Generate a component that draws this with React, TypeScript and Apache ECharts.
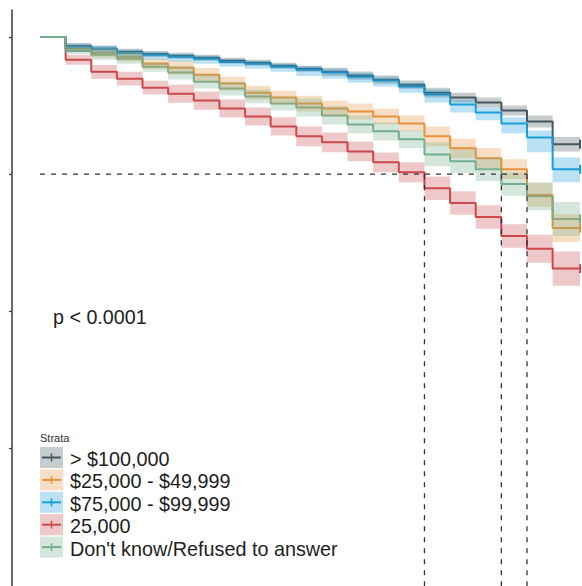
import React, { useEffect, useRef } from "react";
import * as echarts from "echarts";

// ---- data ----
const TIMES = [0, 1, 2, 3, 4, 5, 6, 7, 8, 9, 10, 11, 12, 13, 14, 15, 16, 17, 18, 19, 20];
const T_END = 21.07;

const NAMES = ["> $100,000", "$25,000 - $49,999", "$75,000 - $99,999", "25,000", "Don't know/Refused to answer"];
const COLORS = ["#46555E", "#E8923A", "#1A9FD9", "#C94A4C", "#74AE8E"];

const SURV_GT100K = [1.0, 0.967, 0.957, 0.946, 0.938, 0.931, 0.924, 0.913, 0.906, 0.895, 0.884, 0.873, 0.859, 0.844, 0.826, 0.797, 0.779, 0.761, 0.732, 0.692, 0.609];
const LOWER_GT100K = [1.0, 0.956, 0.946, 0.935, 0.927, 0.92, 0.913, 0.902, 0.895, 0.884, 0.873, 0.858, 0.844, 0.829, 0.811, 0.779, 0.761, 0.743, 0.714, 0.67, 0.583];
const UPPER_GT100K = [1.0, 0.978, 0.968, 0.957, 0.949, 0.942, 0.935, 0.924, 0.917, 0.906, 0.895, 0.888, 0.874, 0.859, 0.841, 0.815, 0.797, 0.779, 0.75, 0.714, 0.635];

const SURV_25_50K = [1.0, 0.957, 0.942, 0.928, 0.902, 0.888, 0.862, 0.83, 0.797, 0.779, 0.757, 0.739, 0.728, 0.71, 0.685, 0.638, 0.594, 0.558, 0.518, 0.424, 0.304];
const LOWER_25_50K = [1.0, 0.946, 0.924, 0.91, 0.884, 0.863, 0.837, 0.805, 0.772, 0.754, 0.728, 0.71, 0.699, 0.681, 0.656, 0.602, 0.558, 0.522, 0.482, 0.381, 0.253];
const UPPER_25_50K = [1.0, 0.968, 0.96, 0.946, 0.92, 0.913, 0.887, 0.855, 0.822, 0.804, 0.786, 0.768, 0.757, 0.739, 0.714, 0.674, 0.63, 0.594, 0.554, 0.467, 0.355];

const SURV_75_100K = [1.0, 0.964, 0.957, 0.942, 0.935, 0.928, 0.92, 0.909, 0.902, 0.891, 0.88, 0.87, 0.855, 0.841, 0.819, 0.79, 0.754, 0.725, 0.685, 0.634, 0.518];
const LOWER_75_100K = [1.0, 0.946, 0.939, 0.924, 0.917, 0.91, 0.902, 0.891, 0.884, 0.873, 0.858, 0.848, 0.833, 0.819, 0.797, 0.761, 0.725, 0.696, 0.649, 0.58, 0.471];
const UPPER_75_100K = [1.0, 0.975, 0.968, 0.953, 0.946, 0.939, 0.931, 0.92, 0.913, 0.902, 0.894, 0.884, 0.869, 0.855, 0.833, 0.808, 0.772, 0.743, 0.707, 0.659, 0.561];

const SURV_LT25K = [1.0, 0.917, 0.873, 0.848, 0.815, 0.793, 0.768, 0.739, 0.71, 0.674, 0.638, 0.616, 0.583, 0.543, 0.507, 0.449, 0.395, 0.344, 0.275, 0.228, 0.156];
const LOWER_LT25K = [1.0, 0.899, 0.848, 0.823, 0.79, 0.76, 0.735, 0.706, 0.677, 0.641, 0.602, 0.58, 0.547, 0.507, 0.471, 0.406, 0.352, 0.301, 0.232, 0.177, 0.094];
const UPPER_LT25K = [1.0, 0.935, 0.898, 0.873, 0.84, 0.826, 0.801, 0.772, 0.743, 0.707, 0.674, 0.652, 0.619, 0.579, 0.543, 0.492, 0.438, 0.387, 0.318, 0.279, 0.218];

const SURV_DK = [1.0, 0.949, 0.935, 0.92, 0.891, 0.87, 0.837, 0.812, 0.783, 0.757, 0.743, 0.714, 0.681, 0.656, 0.627, 0.572, 0.547, 0.518, 0.464, 0.42, 0.337];
const LOWER_DK = [1.0, 0.938, 0.917, 0.902, 0.873, 0.845, 0.812, 0.787, 0.758, 0.732, 0.71, 0.681, 0.648, 0.623, 0.594, 0.529, 0.504, 0.475, 0.421, 0.369, 0.275];
const UPPER_DK = [1.0, 0.96, 0.953, 0.938, 0.909, 0.895, 0.862, 0.837, 0.808, 0.782, 0.776, 0.747, 0.714, 0.689, 0.66, 0.615, 0.59, 0.561, 0.507, 0.471, 0.399];

const SURV = [SURV_GT100K, SURV_25_50K, SURV_75_100K, SURV_LT25K, SURV_DK];
const LOWER = [LOWER_GT100K, LOWER_25_50K, LOWER_75_100K, LOWER_LT25K, LOWER_DK];
const UPPER = [UPPER_GT100K, UPPER_25_50K, UPPER_75_100K, UPPER_LT25K, UPPER_DK];

const MEDIAN_LEVEL = 0.5;
const MEDIAN_TIMES = [15, 18, 19];
const Y_TICKS = [-0.5, 0, 0.5, 1];
const P_TEXT = "p < 0.0001";
const LEGEND_TITLE = "Strata";

const FONT = "'Liberation Sans', Arial, Helvetica, sans-serif";

function stepPoints(vals: number[]) {
  const pts: number[][] = TIMES.map((t, k) => [t, vals[k]]);
  pts.push([T_END, vals[vals.length - 1]]);
  return pts;
}

function hexToRgba(hex: string, a: number) {
  const n = parseInt(hex.slice(1), 16);
  return `rgba(${(n >> 16) & 255},${(n >> 8) & 255},${n & 255},${a})`;
}

export default function App() {
  const ref = useRef<HTMLDivElement>(null);

  useEffect(() => {
    if (!ref.current) return;
    const chart = echarts.init(ref.current, undefined, { renderer: "svg" });

    const series: any[] = [];
    NAMES.forEach((name, i) => {
      const color = COLORS[i];
      const sp = stepPoints(SURV[i]);
      series.push({
        type: "line",
        name,
        step: "end",
        data: sp.map((p, k) =>
          k === sp.length - 1
            ? { value: p, symbol: "rect", symbolSize: [2, 9], itemStyle: { color } }
            : { value: p, symbol: "none" }
        ),
        symbol: "rect",
        showSymbol: true,
        lineStyle: { color, width: 2 },
        itemStyle: { color },
        z: 2,
        silent: true,
      });
      const lo = LOWER[i];
      const up = UPPER[i];
      const ends = TIMES.slice(1).concat([T_END]);
      series.push({
        type: "custom",
        name: name + " band",
        silent: true,
        z: 3,
        data: [[TIMES[0], lo[0], T_END, up[up.length - 1]]],
        encode: { x: [0, 2], y: [1, 3] },
        renderItem: (_params: any, api: any) => {
          const pts: number[][] = [];
          for (let k = 0; k < TIMES.length; k++) {
            pts.push(api.coord([TIMES[k], up[k]]));
            pts.push(api.coord([ends[k], up[k]]));
          }
          for (let k = TIMES.length - 1; k >= 0; k--) {
            pts.push(api.coord([ends[k], lo[k]]));
            pts.push(api.coord([TIMES[k], lo[k]]));
          }
          return {
            type: "polygon",
            shape: { points: pts },
            style: { fill: hexToRgba(color, 0.3), stroke: null },
          };
        },
      });
    });

    const dashStyle = { color: "#333", width: 1.3, type: [5, 6] as any };
    series.push({
      type: "line",
      name: "median-h",
      data: [[0, MEDIAN_LEVEL], [Math.max(...MEDIAN_TIMES), MEDIAN_LEVEL]],
      symbol: "none",
      lineStyle: dashStyle,
      z: 5,
      silent: true,
    });
    MEDIAN_TIMES.forEach((t, j) => {
      series.push({
        type: "line",
        name: "median-v" + j,
        data: [[t, MEDIAN_LEVEL], [t, -1]],
        symbol: "none",
        lineStyle: dashStyle,
        z: 5,
        silent: true,
      });
    });

    const keyX = 40;
    const keyTop = 447;
    const pitch = 22.4;
    const legendEls: any[] = [
      {
        type: "text",
        left: keyX,
        top: 432,
        style: { text: LEGEND_TITLE, fontSize: 11, fill: "#333", fontFamily: FONT },
      },
    ];
    NAMES.forEach((name, i) => {
      const y = keyTop + i * pitch;
      const c = COLORS[i];
      legendEls.push({
        type: "rect",
        shape: { x: keyX, y, width: 23, height: 21 },
        style: { fill: hexToRgba(c, 0.3) },
      });
      legendEls.push({
        type: "line",
        shape: { x1: keyX + 2, y1: y + 10.5, x2: keyX + 21, y2: y + 10.5 },
        style: { stroke: c, lineWidth: 2 },
      });
      legendEls.push({
        type: "line",
        shape: { x1: keyX + 11.5, y1: y + 6.5, x2: keyX + 11.5, y2: y + 14.5 },
        style: { stroke: c, lineWidth: 1.5 },
      });
      legendEls.push({
        type: "text",
        x: 70,
        y: y + 12,
        style: {
          text: name,
          fontSize: 19.8,
          fill: "#1e1e1e",
          fontFamily: FONT,
          verticalAlign: "middle",
          align: "left",
        },
      });
    });

    chart.setOption({
      animation: false,
      backgroundColor: "#fff",
      grid: { left: 12, right: 0, top: 10, bottom: -3, containLabel: false },
      xAxis: {
        type: "value",
        min: -1.092,
        max: 21.146,
        show: false,
        splitLine: { show: false },
      },
      yAxis: {
        type: "value",
        min: -1,
        max: 1.098,
        interval: 0.5,
        axisLine: { show: true, onZero: false, lineStyle: { color: "#3a3a3a", width: 1.5 } },
        axisTick: { show: true, length: 3, inside: false, customValues: Y_TICKS, lineStyle: { color: "#3a3a3a", width: 1.2 } },
        axisLabel: { show: false },
        splitLine: { show: false },
      },
      series,
      graphic: [
        {
          type: "text",
          x: 53,
          y: 317,
          style: { text: P_TEXT, fontSize: 19.7, fill: "#1e1e1e", fontFamily: FONT, verticalAlign: "middle" },
        },
        ...legendEls,
      ],
    });

    return () => chart.dispose();
  }, []);

  return (
    <div
      ref={ref}
      style={{ position: "fixed", left: 0, top: 0, width: 582, height: 586, background: "#fff" }}
    />
  );
}
